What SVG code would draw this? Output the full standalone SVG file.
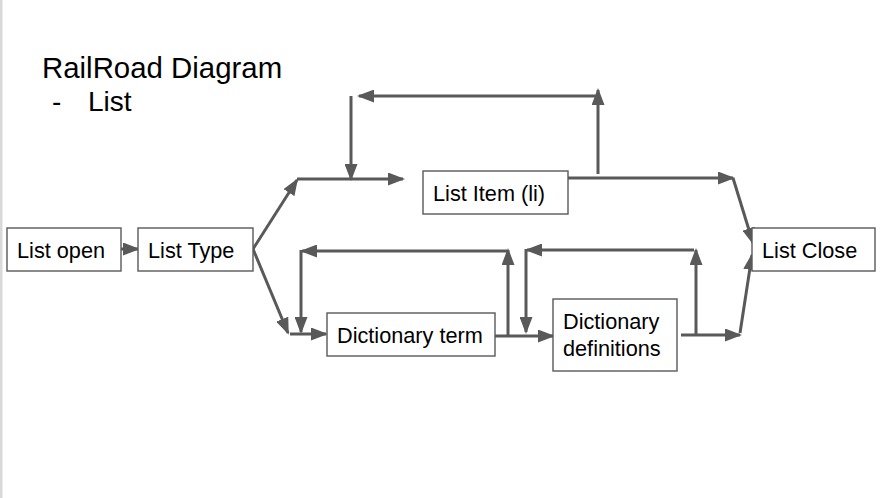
<svg xmlns="http://www.w3.org/2000/svg" width="890" height="498" viewBox="0 0 890 498">
<defs>
<marker id="ah" markerUnits="userSpaceOnUse" markerWidth="17" markerHeight="13" refX="15" refY="6.5" orient="auto">
<path d="M0,0 L17,6.5 L0,13 z" fill="#595959"/>
</marker>
<style>
.box{fill:#fff;stroke:#595959;stroke-width:1.4}
.t{font-family:"Liberation Sans",Arial,sans-serif;font-size:21.7px;fill:#000}
.title{font-family:"Liberation Sans",Arial,sans-serif;font-size:28px;fill:#000}
.c{fill:none;stroke:#595959;stroke-width:3;marker-end:url(#ah)}
</style>
</defs>
<rect x="0" y="0" width="890" height="498" fill="#fff"/>
<rect x="0" y="0" width="2.5" height="498" fill="#d9d9d9"/>
<g id="title">
<text class="title" x="42" y="78" style="font-size:29.4px">RailRoad Diagram</text>
<text class="title" x="52" y="111">-</text>
<text class="title" x="88" y="111">List</text>
</g>
<g id="connectors">
<path class="c" d="M121,249 H138"/>
<path class="c" d="M253,249 L297,180"/>
<path class="c" d="M253,249 L288,333"/>
<path class="c" d="M297,179 H403"/>
<path class="c" d="M351,96 V179"/>
<path class="c" d="M598,174 V90"/>
<path class="c" d="M599,96 H359"/>
<path class="c" d="M555,178 H733"/>
<path class="c" d="M733,178 L753,243"/>
<path class="c" d="M740,333 L752,255"/>
<path class="c" d="M681,335 H740"/>
<path class="c" d="M696,335 V250"/>
<path class="c" d="M694,250 H527"/>
<path class="c" d="M526,249 V332"/>
<path class="c" d="M494,336 H553"/>
<path class="c" d="M508,336 V250"/>
<path class="c" d="M507,251 H302"/>
<path class="c" d="M301,250 V332"/>
<path class="c" d="M290,334 H326"/>
</g>
<g id="list-open">
<rect class="box" x="7" y="228" width="114" height="43"/>
<text class="t" x="17" y="258">List open</text>
</g>
<g id="list-type">
<rect class="box" x="138" y="228" width="115" height="43"/>
<text class="t" x="148" y="258">List Type</text>
</g>
<g id="list-item">
<rect class="box" x="423" y="171" width="145" height="43"/>
<text class="t" x="433" y="201">List Item (li)</text>
</g>
<g id="list-close">
<rect class="box" x="752" y="228" width="123" height="43"/>
<text class="t" x="762" y="258">List Close</text>
</g>
<g id="dictionary-term">
<rect class="box" x="327" y="313" width="168" height="43"/>
<text class="t" x="337" y="343">Dictionary term</text>
</g>
<g id="dictionary-definitions">
<rect class="box" x="553" y="299" width="124" height="72"/>
<text class="t" x="563" y="329">Dictionary</text>
<text class="t" x="563" y="356">definitions</text>
</g>
</svg>
